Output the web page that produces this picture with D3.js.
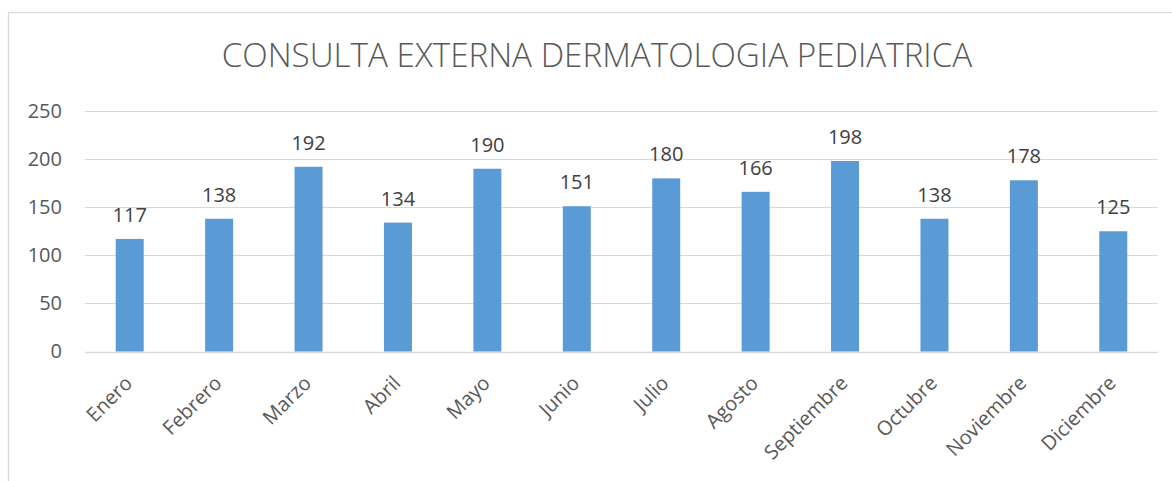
<!DOCTYPE html>
<html><head><meta charset="utf-8">
<script src="https://cdn.jsdelivr.net/npm/d3@7/dist/d3.min.js"></script>
<style>body{margin:0;background:#fff;}svg{display:block;font-family:"Open Sans",sans-serif;}</style>
</head><body>
<script>
const title = "CONSULTA EXTERNA DERMATOLOGIA PEDIATRICA";
const months = ["Enero","Febrero","Marzo","Abril","Mayo","Junio","Julio","Agosto","Septiembre","Octubre","Noviembre","Diciembre"];
const values = [117,138,192,134,190,151,180,166,198,138,178,125];
const yTicks = [0,50,100,150,200,250];

const W = 1172, H = 481;
const svg = d3.select("body").append("svg").attr("width", W).attr("height", H);
svg.append("rect").attr("x", 8.5).attr("y", 12.5).attr("width", 1200).attr("height", 600)
  .attr("fill", "#fff").attr("stroke", "#D9D9D9").attr("stroke-width", 1.3);

const plot = {left: 85, right: 1158, top: 111, bottom: 351.5};
const x = d3.scaleBand().domain(months).range([plot.left, plot.right]).paddingInner(0.687).paddingOuter(0.3435);
const y = d3.scaleLinear().domain([0, 250]).range([plot.bottom, plot.top]);

svg.append("text").attr("x", 597).attr("y", 67)
  .attr("text-anchor", "middle").attr("fill", "#595959").attr("font-size", 33.2)
  .attr("font-weight", 300).text(title);

const grid = svg.append("g");
grid.selectAll("line").data(yTicks).join("line")
  .attr("x1", plot.left).attr("x2", plot.right)
  .attr("y1", d => Math.round(y(d)) + 0.5).attr("y2", d => Math.round(y(d)) + 0.5)
  .attr("stroke", "#D9D9D9").attr("stroke-width", d => d === 0 ? 1.5 : 1.2);

const yAxis = svg.append("g").attr("transform", `translate(${plot.left},0)`)
  .call(d3.axisLeft(y).tickValues(yTicks).tickSize(0).tickPadding(23));
yAxis.select(".domain").remove();
yAxis.selectAll("text").attr("font-size", 20).attr("fill", "#595959").attr("font-family", "Open Sans");

svg.append("g").selectAll("rect").data(values).join("rect")
  .attr("x", (d, i) => x(months[i])).attr("width", x.bandwidth())
  .attr("y", d => y(d)).attr("height", d => y(0) - y(d))
  .attr("fill", "#5B9BD5");

svg.append("g").selectAll("text").data(values).join("text")
  .attr("x", (d, i) => x(months[i]) + x.bandwidth() / 2).attr("y", d => y(d) - 17)
  .attr("text-anchor", "middle").attr("font-size", 20).attr("fill", "#404040").text(d => d);

const xAxis = svg.append("g").attr("transform", `translate(0,${plot.bottom})`)
  .call(d3.axisBottom(x).tickSize(0).tickPadding(0));
xAxis.select(".domain").remove();
xAxis.selectAll("text").attr("font-size", 20).attr("fill", "#595959").attr("font-family", "Open Sans")
  .attr("text-anchor", "end").attr("dy", null).attr("y", 0)
  .attr("transform", "translate(-8,21) rotate(-45)").attr("dominant-baseline", "hanging");
</script>
</body></html>
